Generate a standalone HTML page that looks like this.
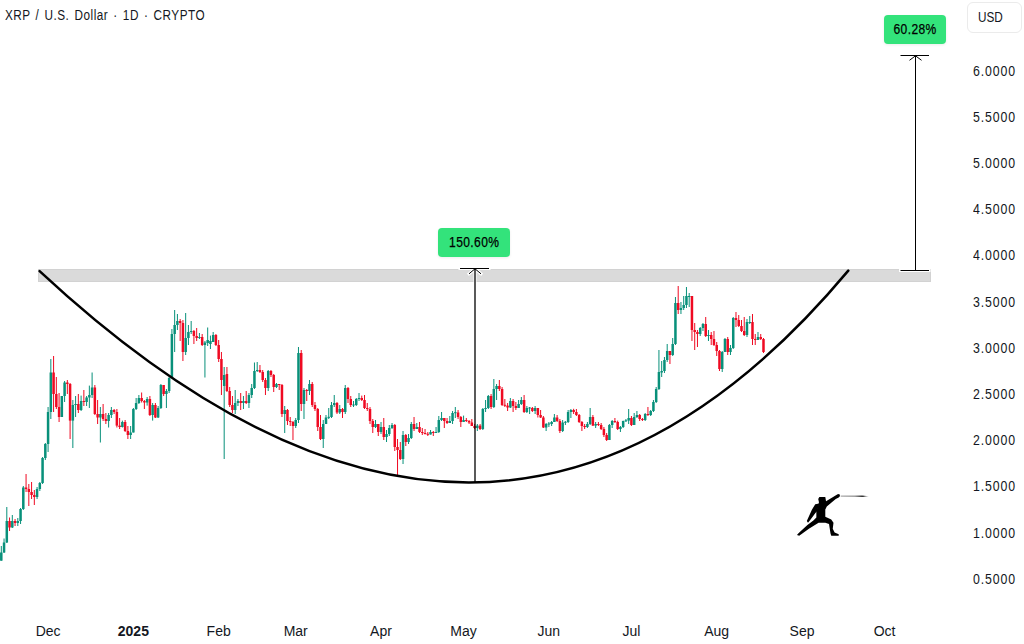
<!DOCTYPE html>
<html><head><meta charset="utf-8">
<style>
html,body{margin:0;padding:0;background:#fff;}
body{width:1024px;height:644px;overflow:hidden;position:relative;font-family:"Liberation Sans",sans-serif;color:#131722;}
svg{position:absolute;left:0;top:0;}
.title{position:absolute;left:4.8px;top:5.3px;font-size:14px;line-height:20px;white-space:nowrap;transform-origin:0 0;transform:scaleX(0.84);letter-spacing:0.6px;word-spacing:1.6px;}
.usd{position:absolute;left:967px;top:1.5px;width:54.5px;height:31px;border:1px solid #ebebeb;border-radius:6px;box-sizing:border-box;}
.usd span{position:absolute;left:10px;top:6.5px;font-size:14px;line-height:16px;transform-origin:0 0;transform:scaleX(0.84);}
.yl{position:absolute;left:973.3px;font-size:14px;line-height:16px;white-space:nowrap;transform-origin:0 0;transform:scaleX(0.88);letter-spacing:1px;}
.xl{position:absolute;top:623px;width:60px;text-align:center;font-size:14px;line-height:16px;}
.xl.b{font-weight:bold;}
.lt{display:inline-block;font-size:14px;transform:scaleX(0.86);letter-spacing:0.45px;-webkit-text-stroke:0.25px #000;}
.lab{position:absolute;background:#33e37b;border-radius:4px;box-shadow:0 1px 3px rgba(0,0,0,0.08);color:#000;font-size:13px;line-height:16px;text-align:center;}
</style></head><body>
<svg width="1024" height="644" viewBox="0 0 1024 644">
<rect x="38" y="269" width="893" height="13" fill="#d2d2d2"/><rect x="39" y="270" width="891" height="11" fill="#dadada"/>
<rect x="0.80" y="546.0" width="1.0" height="14.7" fill="#08907a"/><rect x="0.05" y="552.5" width="2.5" height="8.2" fill="#08907a"/>
<rect x="3.55" y="538.5" width="1.0" height="14.5" fill="#08907a"/><rect x="2.80" y="542.5" width="2.5" height="10.0" fill="#08907a"/>
<rect x="6.30" y="507.0" width="1.0" height="36.0" fill="#08907a"/><rect x="5.55" y="521.0" width="2.5" height="21.5" fill="#08907a"/>
<rect x="9.05" y="517.5" width="1.0" height="13.5" fill="#ef0a22"/><rect x="8.30" y="521.0" width="2.5" height="6.5" fill="#ef0a22"/>
<rect x="11.81" y="515.0" width="1.0" height="13.0" fill="#08907a"/><rect x="11.06" y="521.0" width="2.5" height="6.5" fill="#08907a"/>
<rect x="14.56" y="519.0" width="1.0" height="7.0" fill="#ef0a22"/><rect x="13.81" y="521.0" width="2.5" height="2.0" fill="#ef0a22"/>
<rect x="17.31" y="518.0" width="1.0" height="8.0" fill="#08907a"/><rect x="16.56" y="521.0" width="2.5" height="2.0" fill="#08907a"/>
<rect x="20.06" y="508.0" width="1.0" height="16.0" fill="#08907a"/><rect x="19.31" y="509.0" width="2.5" height="12.0" fill="#08907a"/>
<rect x="22.81" y="486.0" width="1.0" height="24.0" fill="#08907a"/><rect x="22.06" y="487.5" width="2.5" height="21.5" fill="#08907a"/>
<rect x="25.56" y="474.0" width="1.0" height="18.0" fill="#ef0a22"/><rect x="24.81" y="487.5" width="2.5" height="1.5" fill="#ef0a22"/>
<rect x="28.32" y="484.0" width="1.0" height="22.0" fill="#ef0a22"/><rect x="27.57" y="489.0" width="2.5" height="3.0" fill="#ef0a22"/>
<rect x="31.07" y="482.0" width="1.0" height="17.0" fill="#ef0a22"/><rect x="30.32" y="492.0" width="2.5" height="3.0" fill="#ef0a22"/>
<rect x="33.82" y="490.0" width="1.0" height="15.0" fill="#ef0a22"/><rect x="33.07" y="495.0" width="2.5" height="2.0" fill="#ef0a22"/>
<rect x="36.57" y="487.0" width="1.0" height="12.0" fill="#08907a"/><rect x="35.82" y="489.0" width="2.5" height="8.0" fill="#08907a"/>
<rect x="39.32" y="482.0" width="1.0" height="9.0" fill="#08907a"/><rect x="38.57" y="483.0" width="2.5" height="6.0" fill="#08907a"/>
<rect x="42.07" y="457.0" width="1.0" height="27.0" fill="#08907a"/><rect x="41.32" y="458.0" width="2.5" height="25.0" fill="#08907a"/>
<rect x="44.83" y="443.0" width="1.0" height="17.0" fill="#08907a"/><rect x="44.08" y="444.0" width="2.5" height="14.0" fill="#08907a"/>
<rect x="47.58" y="407.0" width="1.0" height="45.0" fill="#08907a"/><rect x="46.83" y="412.0" width="2.5" height="32.0" fill="#08907a"/>
<rect x="50.33" y="359.0" width="1.0" height="60.0" fill="#08907a"/><rect x="49.58" y="372.5" width="2.5" height="39.5" fill="#08907a"/>
<rect x="53.08" y="356.0" width="1.0" height="56.0" fill="#ef0a22"/><rect x="52.33" y="372.5" width="2.5" height="21.5" fill="#ef0a22"/>
<rect x="55.83" y="377.0" width="1.0" height="32.0" fill="#ef0a22"/><rect x="55.08" y="394.0" width="2.5" height="13.0" fill="#ef0a22"/>
<rect x="58.58" y="393.0" width="1.0" height="29.0" fill="#ef0a22"/><rect x="57.83" y="407.0" width="2.5" height="10.0" fill="#ef0a22"/>
<rect x="61.34" y="396.0" width="1.0" height="21.0" fill="#08907a"/><rect x="60.59" y="396.0" width="2.5" height="21.0" fill="#08907a"/>
<rect x="64.09" y="381.0" width="1.0" height="21.0" fill="#08907a"/><rect x="63.34" y="382.5" width="2.5" height="13.5" fill="#08907a"/>
<rect x="66.84" y="380.0" width="1.0" height="14.0" fill="#ef0a22"/><rect x="66.09" y="382.5" width="2.5" height="1.5" fill="#ef0a22"/>
<rect x="69.59" y="383.0" width="1.0" height="56.0" fill="#ef0a22"/><rect x="68.84" y="384.0" width="2.5" height="36.6" fill="#ef0a22"/>
<rect x="72.34" y="400.0" width="1.0" height="48.0" fill="#08907a"/><rect x="71.59" y="405.0" width="2.5" height="15.6" fill="#08907a"/>
<rect x="75.09" y="396.0" width="1.0" height="21.0" fill="#08907a"/><rect x="74.34" y="404.0" width="2.5" height="1.0" fill="#08907a"/>
<rect x="77.84" y="394.0" width="1.0" height="19.0" fill="#ef0a22"/><rect x="77.09" y="404.0" width="2.5" height="6.0" fill="#ef0a22"/>
<rect x="80.60" y="395.6" width="1.0" height="15.4" fill="#08907a"/><rect x="79.85" y="401.0" width="2.5" height="9.0" fill="#08907a"/>
<rect x="83.35" y="390.0" width="1.0" height="16.0" fill="#ef0a22"/><rect x="82.60" y="401.0" width="2.5" height="1.0" fill="#ef0a22"/>
<rect x="86.10" y="396.0" width="1.0" height="10.0" fill="#08907a"/><rect x="85.35" y="397.5" width="2.5" height="4.5" fill="#08907a"/>
<rect x="88.85" y="385.6" width="1.0" height="22.4" fill="#08907a"/><rect x="88.10" y="395.0" width="2.5" height="2.5" fill="#08907a"/>
<rect x="91.60" y="372.5" width="1.0" height="25.5" fill="#08907a"/><rect x="90.85" y="387.5" width="2.5" height="7.5" fill="#08907a"/>
<rect x="94.35" y="385.0" width="1.0" height="30.0" fill="#ef0a22"/><rect x="93.60" y="387.5" width="2.5" height="26.5" fill="#ef0a22"/>
<rect x="97.11" y="400.0" width="1.0" height="24.0" fill="#ef0a22"/><rect x="96.36" y="414.0" width="2.5" height="3.5" fill="#ef0a22"/>
<rect x="99.86" y="407.0" width="1.0" height="35.5" fill="#08907a"/><rect x="99.11" y="414.0" width="2.5" height="3.5" fill="#08907a"/>
<rect x="102.61" y="404.0" width="1.0" height="17.0" fill="#ef0a22"/><rect x="101.86" y="414.0" width="2.5" height="5.0" fill="#ef0a22"/>
<rect x="105.36" y="413.0" width="1.0" height="11.0" fill="#ef0a22"/><rect x="104.61" y="419.0" width="2.5" height="2.0" fill="#ef0a22"/>
<rect x="108.11" y="413.0" width="1.0" height="14.5" fill="#08907a"/><rect x="107.36" y="415.0" width="2.5" height="6.0" fill="#08907a"/>
<rect x="110.86" y="407.0" width="1.0" height="11.0" fill="#08907a"/><rect x="110.11" y="410.0" width="2.5" height="5.0" fill="#08907a"/>
<rect x="113.62" y="409.0" width="1.0" height="5.0" fill="#ef0a22"/><rect x="112.87" y="410.0" width="2.5" height="2.0" fill="#ef0a22"/>
<rect x="116.37" y="409.0" width="1.0" height="18.5" fill="#ef0a22"/><rect x="115.62" y="412.0" width="2.5" height="13.6" fill="#ef0a22"/>
<rect x="119.12" y="418.0" width="1.0" height="11.0" fill="#ef0a22"/><rect x="118.37" y="425.6" width="2.5" height="1.4" fill="#ef0a22"/>
<rect x="121.87" y="420.6" width="1.0" height="6.9" fill="#08907a"/><rect x="121.12" y="422.0" width="2.5" height="5.0" fill="#08907a"/>
<rect x="124.62" y="420.0" width="1.0" height="12.0" fill="#ef0a22"/><rect x="123.87" y="422.0" width="2.5" height="9.0" fill="#ef0a22"/>
<rect x="127.37" y="426.0" width="1.0" height="13.0" fill="#ef0a22"/><rect x="126.62" y="431.0" width="2.5" height="4.0" fill="#ef0a22"/>
<rect x="130.13" y="426.0" width="1.0" height="13.0" fill="#08907a"/><rect x="129.38" y="432.5" width="2.5" height="2.5" fill="#08907a"/>
<rect x="132.88" y="408.0" width="1.0" height="24.5" fill="#08907a"/><rect x="132.13" y="409.0" width="2.5" height="23.5" fill="#08907a"/>
<rect x="135.63" y="398.0" width="1.0" height="12.0" fill="#08907a"/><rect x="134.88" y="403.0" width="2.5" height="6.0" fill="#08907a"/>
<rect x="138.38" y="395.0" width="1.0" height="9.0" fill="#08907a"/><rect x="137.63" y="398.0" width="2.5" height="5.0" fill="#08907a"/>
<rect x="141.13" y="392.5" width="1.0" height="10.0" fill="#ef0a22"/><rect x="140.38" y="398.0" width="2.5" height="3.0" fill="#ef0a22"/>
<rect x="143.88" y="400.0" width="1.0" height="9.0" fill="#ef0a22"/><rect x="143.13" y="401.0" width="2.5" height="1.5" fill="#ef0a22"/>
<rect x="146.63" y="397.0" width="1.0" height="8.6" fill="#08907a"/><rect x="145.88" y="399.0" width="2.5" height="3.5" fill="#08907a"/>
<rect x="149.39" y="396.0" width="1.0" height="20.0" fill="#ef0a22"/><rect x="148.64" y="399.0" width="2.5" height="16.0" fill="#ef0a22"/>
<rect x="152.14" y="403.0" width="1.0" height="17.6" fill="#08907a"/><rect x="151.39" y="405.0" width="2.5" height="10.0" fill="#08907a"/>
<rect x="154.89" y="403.0" width="1.0" height="15.0" fill="#ef0a22"/><rect x="154.14" y="405.0" width="2.5" height="12.5" fill="#ef0a22"/>
<rect x="157.64" y="406.0" width="1.0" height="12.0" fill="#08907a"/><rect x="156.89" y="408.0" width="2.5" height="9.5" fill="#08907a"/>
<rect x="160.39" y="384.0" width="1.0" height="25.0" fill="#08907a"/><rect x="159.64" y="385.0" width="2.5" height="23.0" fill="#08907a"/>
<rect x="163.14" y="385.0" width="1.0" height="11.0" fill="#ef0a22"/><rect x="162.39" y="385.0" width="2.5" height="9.0" fill="#ef0a22"/>
<rect x="165.90" y="389.0" width="1.0" height="19.0" fill="#08907a"/><rect x="165.15" y="391.0" width="2.5" height="3.0" fill="#08907a"/>
<rect x="168.65" y="377.0" width="1.0" height="16.0" fill="#08907a"/><rect x="167.90" y="378.0" width="2.5" height="13.0" fill="#08907a"/>
<rect x="171.40" y="329.0" width="1.0" height="49.0" fill="#08907a"/><rect x="170.65" y="334.0" width="2.5" height="44.0" fill="#08907a"/>
<rect x="174.15" y="310.0" width="1.0" height="42.0" fill="#08907a"/><rect x="173.40" y="325.0" width="2.5" height="9.0" fill="#08907a"/>
<rect x="176.90" y="314.0" width="1.0" height="16.0" fill="#08907a"/><rect x="176.15" y="321.0" width="2.5" height="4.0" fill="#08907a"/>
<rect x="179.65" y="319.0" width="1.0" height="22.0" fill="#ef0a22"/><rect x="178.90" y="321.0" width="2.5" height="2.0" fill="#ef0a22"/>
<rect x="182.41" y="320.0" width="1.0" height="41.0" fill="#ef0a22"/><rect x="181.66" y="323.0" width="2.5" height="29.0" fill="#ef0a22"/>
<rect x="185.16" y="313.0" width="1.0" height="42.0" fill="#08907a"/><rect x="184.41" y="338.0" width="2.5" height="14.0" fill="#08907a"/>
<rect x="187.91" y="325.0" width="1.0" height="20.0" fill="#08907a"/><rect x="187.16" y="332.0" width="2.5" height="6.0" fill="#08907a"/>
<rect x="190.66" y="321.0" width="1.0" height="13.0" fill="#08907a"/><rect x="189.91" y="331.0" width="2.5" height="1.0" fill="#08907a"/>
<rect x="193.41" y="330.0" width="1.0" height="14.0" fill="#ef0a22"/><rect x="192.66" y="331.0" width="2.5" height="5.0" fill="#ef0a22"/>
<rect x="196.16" y="328.0" width="1.0" height="13.0" fill="#ef0a22"/><rect x="195.41" y="336.0" width="2.5" height="2.0" fill="#ef0a22"/>
<rect x="198.92" y="333.0" width="1.0" height="6.0" fill="#08907a"/><rect x="198.17" y="337.0" width="2.5" height="1.0" fill="#08907a"/>
<rect x="201.67" y="334.0" width="1.0" height="12.0" fill="#ef0a22"/><rect x="200.92" y="337.0" width="2.5" height="8.0" fill="#ef0a22"/>
<rect x="204.42" y="341.0" width="1.0" height="36.5" fill="#08907a"/><rect x="203.67" y="342.5" width="2.5" height="2.5" fill="#08907a"/>
<rect x="207.17" y="327.5" width="1.0" height="18.5" fill="#08907a"/><rect x="206.42" y="340.0" width="2.5" height="3.0" fill="#08907a"/>
<rect x="209.92" y="335.6" width="1.0" height="13.4" fill="#08907a"/><rect x="209.17" y="341.0" width="2.5" height="3.0" fill="#08907a"/>
<rect x="212.67" y="332.0" width="1.0" height="10.0" fill="#08907a"/><rect x="211.92" y="335.0" width="2.5" height="7.0" fill="#08907a"/>
<rect x="215.42" y="334.0" width="1.0" height="12.0" fill="#ef0a22"/><rect x="214.67" y="335.0" width="2.5" height="10.0" fill="#ef0a22"/>
<rect x="218.18" y="340.0" width="1.0" height="22.0" fill="#ef0a22"/><rect x="217.43" y="345.0" width="2.5" height="14.0" fill="#ef0a22"/>
<rect x="220.93" y="352.0" width="1.0" height="43.0" fill="#ef0a22"/><rect x="220.18" y="359.0" width="2.5" height="21.0" fill="#ef0a22"/>
<rect x="223.68" y="367.0" width="1.0" height="92.0" fill="#08907a"/><rect x="222.93" y="375.0" width="2.5" height="11.0" fill="#08907a"/>
<rect x="226.43" y="367.0" width="1.0" height="25.0" fill="#ef0a22"/><rect x="225.68" y="374.0" width="2.5" height="17.0" fill="#ef0a22"/>
<rect x="229.18" y="387.0" width="1.0" height="20.0" fill="#ef0a22"/><rect x="228.43" y="391.0" width="2.5" height="14.0" fill="#ef0a22"/>
<rect x="231.93" y="396.0" width="1.0" height="17.0" fill="#ef0a22"/><rect x="231.18" y="405.0" width="2.5" height="5.0" fill="#ef0a22"/>
<rect x="234.69" y="390.0" width="1.0" height="24.0" fill="#08907a"/><rect x="233.94" y="403.0" width="2.5" height="7.0" fill="#08907a"/>
<rect x="237.44" y="399.0" width="1.0" height="7.0" fill="#08907a"/><rect x="236.69" y="401.0" width="2.5" height="2.0" fill="#08907a"/>
<rect x="240.19" y="393.0" width="1.0" height="17.0" fill="#ef0a22"/><rect x="239.44" y="401.0" width="2.5" height="2.0" fill="#ef0a22"/>
<rect x="242.94" y="396.0" width="1.0" height="13.0" fill="#08907a"/><rect x="242.19" y="401.0" width="2.5" height="2.0" fill="#08907a"/>
<rect x="245.69" y="391.0" width="1.0" height="13.0" fill="#ef0a22"/><rect x="244.94" y="401.0" width="2.5" height="2.0" fill="#ef0a22"/>
<rect x="248.44" y="393.0" width="1.0" height="15.0" fill="#08907a"/><rect x="247.69" y="395.0" width="2.5" height="8.0" fill="#08907a"/>
<rect x="251.20" y="384.0" width="1.0" height="14.0" fill="#08907a"/><rect x="250.45" y="388.0" width="2.5" height="7.0" fill="#08907a"/>
<rect x="253.95" y="362.5" width="1.0" height="26.5" fill="#08907a"/><rect x="253.20" y="371.0" width="2.5" height="17.0" fill="#08907a"/>
<rect x="256.70" y="362.0" width="1.0" height="10.0" fill="#08907a"/><rect x="255.95" y="370.0" width="2.5" height="1.0" fill="#08907a"/>
<rect x="259.45" y="365.0" width="1.0" height="8.0" fill="#ef0a22"/><rect x="258.70" y="370.0" width="2.5" height="2.0" fill="#ef0a22"/>
<rect x="262.20" y="370.0" width="1.0" height="12.0" fill="#ef0a22"/><rect x="261.45" y="372.0" width="2.5" height="8.0" fill="#ef0a22"/>
<rect x="264.95" y="378.0" width="1.0" height="17.0" fill="#ef0a22"/><rect x="264.20" y="380.0" width="2.5" height="8.0" fill="#ef0a22"/>
<rect x="267.71" y="370.0" width="1.0" height="21.0" fill="#08907a"/><rect x="266.96" y="371.0" width="2.5" height="17.0" fill="#08907a"/>
<rect x="270.46" y="370.0" width="1.0" height="7.0" fill="#ef0a22"/><rect x="269.71" y="371.0" width="2.5" height="4.0" fill="#ef0a22"/>
<rect x="273.21" y="374.0" width="1.0" height="18.0" fill="#ef0a22"/><rect x="272.46" y="375.0" width="2.5" height="12.0" fill="#ef0a22"/>
<rect x="275.96" y="383.0" width="1.0" height="5.0" fill="#08907a"/><rect x="275.21" y="384.0" width="2.5" height="3.0" fill="#08907a"/>
<rect x="278.71" y="384.0" width="1.0" height="6.0" fill="#ef0a22"/><rect x="277.96" y="384.0" width="2.5" height="1.0" fill="#ef0a22"/>
<rect x="281.46" y="384.0" width="1.0" height="33.0" fill="#ef0a22"/><rect x="280.71" y="385.0" width="2.5" height="29.0" fill="#ef0a22"/>
<rect x="284.21" y="406.0" width="1.0" height="27.0" fill="#08907a"/><rect x="283.46" y="410.0" width="2.5" height="4.0" fill="#08907a"/>
<rect x="286.97" y="409.0" width="1.0" height="16.0" fill="#ef0a22"/><rect x="286.22" y="410.0" width="2.5" height="11.0" fill="#ef0a22"/>
<rect x="289.72" y="417.0" width="1.0" height="9.0" fill="#ef0a22"/><rect x="288.97" y="421.0" width="2.5" height="1.0" fill="#ef0a22"/>
<rect x="292.47" y="421.0" width="1.0" height="19.0" fill="#ef0a22"/><rect x="291.72" y="422.0" width="2.5" height="4.0" fill="#ef0a22"/>
<rect x="295.22" y="418.0" width="1.0" height="10.0" fill="#08907a"/><rect x="294.47" y="420.0" width="2.5" height="6.0" fill="#08907a"/>
<rect x="297.97" y="347.0" width="1.0" height="76.0" fill="#08907a"/><rect x="297.22" y="353.0" width="2.5" height="67.0" fill="#08907a"/>
<rect x="300.72" y="350.0" width="1.0" height="61.0" fill="#ef0a22"/><rect x="299.97" y="353.0" width="2.5" height="51.0" fill="#ef0a22"/>
<rect x="303.48" y="388.0" width="1.0" height="31.0" fill="#08907a"/><rect x="302.73" y="390.0" width="2.5" height="14.0" fill="#08907a"/>
<rect x="306.23" y="389.0" width="1.0" height="12.0" fill="#ef0a22"/><rect x="305.48" y="390.0" width="2.5" height="1.0" fill="#ef0a22"/>
<rect x="308.98" y="380.0" width="1.0" height="15.0" fill="#08907a"/><rect x="308.23" y="384.0" width="2.5" height="7.0" fill="#08907a"/>
<rect x="311.73" y="382.0" width="1.0" height="25.0" fill="#ef0a22"/><rect x="310.98" y="384.0" width="2.5" height="21.0" fill="#ef0a22"/>
<rect x="314.48" y="402.0" width="1.0" height="9.0" fill="#ef0a22"/><rect x="313.73" y="405.0" width="2.5" height="4.0" fill="#ef0a22"/>
<rect x="317.23" y="408.0" width="1.0" height="23.0" fill="#ef0a22"/><rect x="316.48" y="409.0" width="2.5" height="18.0" fill="#ef0a22"/>
<rect x="319.99" y="415.0" width="1.0" height="25.0" fill="#ef0a22"/><rect x="319.24" y="427.0" width="2.5" height="12.0" fill="#ef0a22"/>
<rect x="322.74" y="420.0" width="1.0" height="28.0" fill="#08907a"/><rect x="321.99" y="424.0" width="2.5" height="15.0" fill="#08907a"/>
<rect x="325.49" y="415.0" width="1.0" height="9.0" fill="#08907a"/><rect x="324.74" y="417.5" width="2.5" height="6.5" fill="#08907a"/>
<rect x="328.24" y="408.0" width="1.0" height="11.0" fill="#08907a"/><rect x="327.49" y="416.8" width="2.5" height="1.0" fill="#08907a"/>
<rect x="330.99" y="402.0" width="1.0" height="16.0" fill="#08907a"/><rect x="330.24" y="405.0" width="2.5" height="12.0" fill="#08907a"/>
<rect x="333.74" y="395.0" width="1.0" height="12.0" fill="#08907a"/><rect x="332.99" y="403.0" width="2.5" height="2.0" fill="#08907a"/>
<rect x="336.50" y="402.0" width="1.0" height="12.0" fill="#ef0a22"/><rect x="335.75" y="403.0" width="2.5" height="9.5" fill="#ef0a22"/>
<rect x="339.25" y="405.0" width="1.0" height="9.0" fill="#08907a"/><rect x="338.50" y="409.0" width="2.5" height="3.5" fill="#08907a"/>
<rect x="342.00" y="408.0" width="1.0" height="10.0" fill="#ef0a22"/><rect x="341.25" y="409.0" width="2.5" height="3.0" fill="#ef0a22"/>
<rect x="344.75" y="385.0" width="1.0" height="29.0" fill="#08907a"/><rect x="344.00" y="388.0" width="2.5" height="24.0" fill="#08907a"/>
<rect x="347.50" y="387.0" width="1.0" height="16.0" fill="#ef0a22"/><rect x="346.75" y="388.0" width="2.5" height="11.0" fill="#ef0a22"/>
<rect x="350.25" y="396.0" width="1.0" height="11.0" fill="#ef0a22"/><rect x="349.50" y="399.0" width="2.5" height="6.0" fill="#ef0a22"/>
<rect x="353.00" y="401.0" width="1.0" height="6.0" fill="#08907a"/><rect x="352.25" y="404.5" width="2.5" height="1.0" fill="#08907a"/>
<rect x="355.76" y="398.0" width="1.0" height="8.0" fill="#08907a"/><rect x="355.01" y="399.0" width="2.5" height="6.0" fill="#08907a"/>
<rect x="358.51" y="393.0" width="1.0" height="8.0" fill="#08907a"/><rect x="357.76" y="398.0" width="2.5" height="1.0" fill="#08907a"/>
<rect x="361.26" y="395.6" width="1.0" height="5.4" fill="#ef0a22"/><rect x="360.51" y="398.0" width="2.5" height="2.0" fill="#ef0a22"/>
<rect x="364.01" y="395.0" width="1.0" height="14.0" fill="#ef0a22"/><rect x="363.26" y="400.0" width="2.5" height="8.0" fill="#ef0a22"/>
<rect x="366.76" y="403.0" width="1.0" height="8.0" fill="#ef0a22"/><rect x="366.01" y="408.0" width="2.5" height="1.0" fill="#ef0a22"/>
<rect x="369.51" y="407.0" width="1.0" height="17.0" fill="#ef0a22"/><rect x="368.76" y="409.0" width="2.5" height="12.0" fill="#ef0a22"/>
<rect x="372.27" y="419.0" width="1.0" height="14.0" fill="#ef0a22"/><rect x="371.52" y="421.0" width="2.5" height="6.0" fill="#ef0a22"/>
<rect x="375.02" y="420.0" width="1.0" height="8.0" fill="#08907a"/><rect x="374.27" y="424.0" width="2.5" height="3.0" fill="#08907a"/>
<rect x="377.77" y="424.0" width="1.0" height="12.0" fill="#ef0a22"/><rect x="377.02" y="424.0" width="2.5" height="8.0" fill="#ef0a22"/>
<rect x="380.52" y="422.0" width="1.0" height="12.0" fill="#08907a"/><rect x="379.77" y="427.0" width="2.5" height="5.0" fill="#08907a"/>
<rect x="383.27" y="418.0" width="1.0" height="22.0" fill="#ef0a22"/><rect x="382.52" y="427.0" width="2.5" height="10.0" fill="#ef0a22"/>
<rect x="386.02" y="430.0" width="1.0" height="12.0" fill="#08907a"/><rect x="385.27" y="434.0" width="2.5" height="3.0" fill="#08907a"/>
<rect x="388.78" y="425.0" width="1.0" height="11.0" fill="#08907a"/><rect x="388.03" y="428.0" width="2.5" height="6.0" fill="#08907a"/>
<rect x="391.53" y="423.0" width="1.0" height="6.0" fill="#08907a"/><rect x="390.78" y="425.0" width="2.5" height="3.0" fill="#08907a"/>
<rect x="394.28" y="424.0" width="1.0" height="27.0" fill="#ef0a22"/><rect x="393.53" y="425.0" width="2.5" height="22.0" fill="#ef0a22"/>
<rect x="397.03" y="439.0" width="1.0" height="37.0" fill="#ef0a22"/><rect x="396.28" y="447.0" width="2.5" height="3.0" fill="#ef0a22"/>
<rect x="399.78" y="442.0" width="1.0" height="18.0" fill="#ef0a22"/><rect x="399.03" y="450.0" width="2.5" height="9.0" fill="#ef0a22"/>
<rect x="402.53" y="431.0" width="1.0" height="33.0" fill="#08907a"/><rect x="401.78" y="435.0" width="2.5" height="24.0" fill="#08907a"/>
<rect x="405.29" y="434.0" width="1.0" height="12.0" fill="#ef0a22"/><rect x="404.54" y="435.0" width="2.5" height="7.0" fill="#ef0a22"/>
<rect x="408.04" y="434.0" width="1.0" height="10.0" fill="#08907a"/><rect x="407.29" y="438.0" width="2.5" height="4.0" fill="#08907a"/>
<rect x="410.79" y="422.0" width="1.0" height="17.0" fill="#08907a"/><rect x="410.04" y="424.0" width="2.5" height="14.0" fill="#08907a"/>
<rect x="413.54" y="417.0" width="1.0" height="14.0" fill="#ef0a22"/><rect x="412.79" y="424.0" width="2.5" height="5.0" fill="#ef0a22"/>
<rect x="416.29" y="423.0" width="1.0" height="6.0" fill="#08907a"/><rect x="415.54" y="427.0" width="2.5" height="2.0" fill="#08907a"/>
<rect x="419.04" y="422.0" width="1.0" height="11.0" fill="#ef0a22"/><rect x="418.29" y="427.0" width="2.5" height="5.0" fill="#ef0a22"/>
<rect x="421.79" y="428.0" width="1.0" height="7.0" fill="#ef0a22"/><rect x="421.04" y="432.0" width="2.5" height="1.0" fill="#ef0a22"/>
<rect x="424.55" y="429.0" width="1.0" height="5.5" fill="#ef0a22"/><rect x="423.80" y="433.0" width="2.5" height="1.0" fill="#ef0a22"/>
<rect x="427.30" y="432.0" width="1.0" height="4.0" fill="#ef0a22"/><rect x="426.55" y="433.8" width="2.5" height="1.0" fill="#ef0a22"/>
<rect x="430.05" y="430.0" width="1.0" height="4.5" fill="#08907a"/><rect x="429.30" y="432.0" width="2.5" height="2.5" fill="#08907a"/>
<rect x="432.80" y="431.0" width="1.0" height="5.0" fill="#ef0a22"/><rect x="432.05" y="432.0" width="2.5" height="1.0" fill="#ef0a22"/>
<rect x="435.55" y="427.0" width="1.0" height="6.0" fill="#08907a"/><rect x="434.80" y="432.0" width="2.5" height="1.0" fill="#08907a"/>
<rect x="438.30" y="416.0" width="1.0" height="17.0" fill="#08907a"/><rect x="437.55" y="420.0" width="2.5" height="12.0" fill="#08907a"/>
<rect x="441.06" y="412.0" width="1.0" height="9.0" fill="#08907a"/><rect x="440.31" y="418.0" width="2.5" height="2.0" fill="#08907a"/>
<rect x="443.81" y="418.0" width="1.0" height="10.0" fill="#ef0a22"/><rect x="443.06" y="418.0" width="2.5" height="3.0" fill="#ef0a22"/>
<rect x="446.56" y="418.0" width="1.0" height="6.0" fill="#ef0a22"/><rect x="445.81" y="421.0" width="2.5" height="2.0" fill="#ef0a22"/>
<rect x="449.31" y="416.0" width="1.0" height="7.0" fill="#08907a"/><rect x="448.56" y="421.0" width="2.5" height="2.0" fill="#08907a"/>
<rect x="452.06" y="411.0" width="1.0" height="13.0" fill="#08907a"/><rect x="451.31" y="413.0" width="2.5" height="8.0" fill="#08907a"/>
<rect x="454.81" y="407.0" width="1.0" height="11.0" fill="#08907a"/><rect x="454.06" y="412.2" width="2.5" height="1.0" fill="#08907a"/>
<rect x="457.57" y="410.0" width="1.0" height="9.0" fill="#ef0a22"/><rect x="456.82" y="412.5" width="2.5" height="4.5" fill="#ef0a22"/>
<rect x="460.32" y="416.0" width="1.0" height="11.0" fill="#ef0a22"/><rect x="459.57" y="417.0" width="2.5" height="5.0" fill="#ef0a22"/>
<rect x="463.07" y="415.6" width="1.0" height="6.4" fill="#08907a"/><rect x="462.32" y="420.0" width="2.5" height="2.0" fill="#08907a"/>
<rect x="465.82" y="418.0" width="1.0" height="4.0" fill="#ef0a22"/><rect x="465.07" y="420.0" width="2.5" height="1.0" fill="#ef0a22"/>
<rect x="468.57" y="420.0" width="1.0" height="4.0" fill="#ef0a22"/><rect x="467.82" y="421.0" width="2.5" height="1.5" fill="#ef0a22"/>
<rect x="471.32" y="419.0" width="1.0" height="7.0" fill="#ef0a22"/><rect x="470.57" y="422.5" width="2.5" height="3.5" fill="#ef0a22"/>
<rect x="474.08" y="424.0" width="1.0" height="5.0" fill="#ef0a22"/><rect x="473.33" y="426.0" width="2.5" height="2.0" fill="#ef0a22"/>
<rect x="476.83" y="424.0" width="1.0" height="7.0" fill="#08907a"/><rect x="476.08" y="425.6" width="2.5" height="2.4" fill="#08907a"/>
<rect x="479.58" y="424.0" width="1.0" height="6.0" fill="#ef0a22"/><rect x="478.83" y="425.6" width="2.5" height="3.4" fill="#ef0a22"/>
<rect x="482.33" y="408.0" width="1.0" height="22.0" fill="#08907a"/><rect x="481.58" y="409.0" width="2.5" height="20.0" fill="#08907a"/>
<rect x="485.08" y="400.0" width="1.0" height="12.0" fill="#08907a"/><rect x="484.33" y="408.0" width="2.5" height="1.0" fill="#08907a"/>
<rect x="487.83" y="395.0" width="1.0" height="14.0" fill="#08907a"/><rect x="487.08" y="396.0" width="2.5" height="12.0" fill="#08907a"/>
<rect x="490.58" y="394.0" width="1.0" height="15.0" fill="#ef0a22"/><rect x="489.83" y="396.0" width="2.5" height="11.0" fill="#ef0a22"/>
<rect x="493.34" y="379.0" width="1.0" height="29.0" fill="#08907a"/><rect x="492.59" y="389.0" width="2.5" height="18.0" fill="#08907a"/>
<rect x="496.09" y="384.0" width="1.0" height="16.0" fill="#08907a"/><rect x="495.34" y="386.0" width="2.5" height="3.0" fill="#08907a"/>
<rect x="498.84" y="380.0" width="1.0" height="11.0" fill="#ef0a22"/><rect x="498.09" y="386.0" width="2.5" height="3.0" fill="#ef0a22"/>
<rect x="501.59" y="387.0" width="1.0" height="19.0" fill="#ef0a22"/><rect x="500.84" y="389.0" width="2.5" height="16.0" fill="#ef0a22"/>
<rect x="504.34" y="399.0" width="1.0" height="8.0" fill="#ef0a22"/><rect x="503.59" y="404.8" width="2.5" height="1.0" fill="#ef0a22"/>
<rect x="507.09" y="403.0" width="1.0" height="8.0" fill="#ef0a22"/><rect x="506.34" y="405.6" width="2.5" height="1.9" fill="#ef0a22"/>
<rect x="509.85" y="398.0" width="1.0" height="10.0" fill="#08907a"/><rect x="509.10" y="401.0" width="2.5" height="6.5" fill="#08907a"/>
<rect x="512.60" y="399.0" width="1.0" height="13.0" fill="#ef0a22"/><rect x="511.85" y="401.0" width="2.5" height="5.0" fill="#ef0a22"/>
<rect x="515.35" y="402.0" width="1.0" height="8.0" fill="#ef0a22"/><rect x="514.60" y="406.0" width="2.5" height="2.0" fill="#ef0a22"/>
<rect x="518.10" y="400.0" width="1.0" height="8.0" fill="#08907a"/><rect x="517.35" y="404.0" width="2.5" height="4.0" fill="#08907a"/>
<rect x="520.85" y="397.0" width="1.0" height="8.0" fill="#08907a"/><rect x="520.10" y="400.0" width="2.5" height="4.0" fill="#08907a"/>
<rect x="523.60" y="395.0" width="1.0" height="18.0" fill="#ef0a22"/><rect x="522.85" y="400.0" width="2.5" height="12.0" fill="#ef0a22"/>
<rect x="526.36" y="406.0" width="1.0" height="7.0" fill="#08907a"/><rect x="525.61" y="408.0" width="2.5" height="4.0" fill="#08907a"/>
<rect x="529.11" y="407.0" width="1.0" height="7.0" fill="#08907a"/><rect x="528.36" y="407.5" width="2.5" height="1.0" fill="#08907a"/>
<rect x="531.86" y="407.0" width="1.0" height="5.0" fill="#ef0a22"/><rect x="531.11" y="408.0" width="2.5" height="3.0" fill="#ef0a22"/>
<rect x="534.61" y="406.0" width="1.0" height="8.0" fill="#08907a"/><rect x="533.86" y="408.0" width="2.5" height="3.0" fill="#08907a"/>
<rect x="537.36" y="408.0" width="1.0" height="9.5" fill="#ef0a22"/><rect x="536.61" y="408.0" width="2.5" height="7.0" fill="#ef0a22"/>
<rect x="540.11" y="410.0" width="1.0" height="8.0" fill="#ef0a22"/><rect x="539.36" y="415.0" width="2.5" height="2.5" fill="#ef0a22"/>
<rect x="542.87" y="416.0" width="1.0" height="12.0" fill="#ef0a22"/><rect x="542.12" y="417.5" width="2.5" height="10.0" fill="#ef0a22"/>
<rect x="545.62" y="423.0" width="1.0" height="8.0" fill="#08907a"/><rect x="544.87" y="424.0" width="2.5" height="3.5" fill="#08907a"/>
<rect x="548.37" y="422.0" width="1.0" height="5.0" fill="#08907a"/><rect x="547.62" y="423.5" width="2.5" height="1.0" fill="#08907a"/>
<rect x="551.12" y="421.0" width="1.0" height="5.0" fill="#08907a"/><rect x="550.37" y="422.0" width="2.5" height="2.0" fill="#08907a"/>
<rect x="553.87" y="414.0" width="1.0" height="8.0" fill="#08907a"/><rect x="553.12" y="417.5" width="2.5" height="4.5" fill="#08907a"/>
<rect x="556.62" y="415.0" width="1.0" height="7.0" fill="#ef0a22"/><rect x="555.87" y="417.5" width="2.5" height="3.5" fill="#ef0a22"/>
<rect x="559.37" y="419.0" width="1.0" height="14.0" fill="#ef0a22"/><rect x="558.62" y="421.0" width="2.5" height="10.0" fill="#ef0a22"/>
<rect x="562.13" y="420.0" width="1.0" height="12.0" fill="#08907a"/><rect x="561.38" y="422.5" width="2.5" height="8.5" fill="#08907a"/>
<rect x="564.88" y="421.0" width="1.0" height="4.0" fill="#08907a"/><rect x="564.13" y="421.8" width="2.5" height="1.0" fill="#08907a"/>
<rect x="567.63" y="410.0" width="1.0" height="13.0" fill="#08907a"/><rect x="566.88" y="412.0" width="2.5" height="10.0" fill="#08907a"/>
<rect x="570.38" y="409.0" width="1.0" height="9.0" fill="#08907a"/><rect x="569.63" y="410.0" width="2.5" height="2.0" fill="#08907a"/>
<rect x="573.13" y="408.8" width="1.0" height="5.2" fill="#ef0a22"/><rect x="572.38" y="410.0" width="2.5" height="2.0" fill="#ef0a22"/>
<rect x="575.88" y="409.0" width="1.0" height="7.0" fill="#ef0a22"/><rect x="575.13" y="412.0" width="2.5" height="3.0" fill="#ef0a22"/>
<rect x="578.64" y="414.0" width="1.0" height="9.0" fill="#ef0a22"/><rect x="577.89" y="415.0" width="2.5" height="7.0" fill="#ef0a22"/>
<rect x="581.39" y="421.0" width="1.0" height="10.0" fill="#ef0a22"/><rect x="580.64" y="422.0" width="2.5" height="4.0" fill="#ef0a22"/>
<rect x="584.14" y="424.0" width="1.0" height="5.0" fill="#ef0a22"/><rect x="583.39" y="426.0" width="2.5" height="1.0" fill="#ef0a22"/>
<rect x="586.89" y="422.0" width="1.0" height="6.0" fill="#08907a"/><rect x="586.14" y="424.0" width="2.5" height="3.0" fill="#08907a"/>
<rect x="589.64" y="408.0" width="1.0" height="17.0" fill="#08907a"/><rect x="588.89" y="417.0" width="2.5" height="7.0" fill="#08907a"/>
<rect x="592.39" y="415.0" width="1.0" height="11.0" fill="#ef0a22"/><rect x="591.64" y="417.0" width="2.5" height="8.6" fill="#ef0a22"/>
<rect x="595.15" y="422.0" width="1.0" height="6.0" fill="#08907a"/><rect x="594.40" y="424.0" width="2.5" height="1.6" fill="#08907a"/>
<rect x="597.90" y="422.0" width="1.0" height="4.0" fill="#ef0a22"/><rect x="597.15" y="424.0" width="2.5" height="1.0" fill="#ef0a22"/>
<rect x="600.65" y="423.0" width="1.0" height="7.0" fill="#ef0a22"/><rect x="599.90" y="425.0" width="2.5" height="4.0" fill="#ef0a22"/>
<rect x="603.40" y="427.0" width="1.0" height="10.0" fill="#ef0a22"/><rect x="602.65" y="429.0" width="2.5" height="6.0" fill="#ef0a22"/>
<rect x="606.15" y="433.0" width="1.0" height="8.0" fill="#ef0a22"/><rect x="605.40" y="435.0" width="2.5" height="5.0" fill="#ef0a22"/>
<rect x="608.90" y="424.0" width="1.0" height="16.0" fill="#08907a"/><rect x="608.15" y="425.0" width="2.5" height="15.0" fill="#08907a"/>
<rect x="611.66" y="420.0" width="1.0" height="8.0" fill="#08907a"/><rect x="610.91" y="421.0" width="2.5" height="4.0" fill="#08907a"/>
<rect x="614.41" y="418.0" width="1.0" height="5.0" fill="#ef0a22"/><rect x="613.66" y="421.0" width="2.5" height="1.0" fill="#ef0a22"/>
<rect x="617.16" y="420.6" width="1.0" height="9.4" fill="#ef0a22"/><rect x="616.41" y="422.0" width="2.5" height="7.0" fill="#ef0a22"/>
<rect x="619.91" y="426.0" width="1.0" height="6.0" fill="#08907a"/><rect x="619.16" y="427.0" width="2.5" height="2.0" fill="#08907a"/>
<rect x="622.66" y="420.6" width="1.0" height="7.4" fill="#08907a"/><rect x="621.91" y="421.0" width="2.5" height="6.0" fill="#08907a"/>
<rect x="625.41" y="419.0" width="1.0" height="3.0" fill="#08907a"/><rect x="624.66" y="420.3" width="2.5" height="1.0" fill="#08907a"/>
<rect x="628.16" y="409.0" width="1.0" height="15.0" fill="#08907a"/><rect x="627.41" y="418.0" width="2.5" height="2.6" fill="#08907a"/>
<rect x="630.92" y="416.0" width="1.0" height="10.0" fill="#ef0a22"/><rect x="630.17" y="418.0" width="2.5" height="7.0" fill="#ef0a22"/>
<rect x="633.67" y="413.0" width="1.0" height="12.0" fill="#08907a"/><rect x="632.92" y="417.0" width="2.5" height="8.0" fill="#08907a"/>
<rect x="636.42" y="411.0" width="1.0" height="7.0" fill="#08907a"/><rect x="635.67" y="415.0" width="2.5" height="2.0" fill="#08907a"/>
<rect x="639.17" y="414.0" width="1.0" height="7.0" fill="#ef0a22"/><rect x="638.42" y="415.0" width="2.5" height="4.0" fill="#ef0a22"/>
<rect x="641.92" y="418.0" width="1.0" height="3.0" fill="#ef0a22"/><rect x="641.17" y="419.0" width="2.5" height="1.0" fill="#ef0a22"/>
<rect x="644.67" y="413.0" width="1.0" height="8.0" fill="#08907a"/><rect x="643.92" y="414.0" width="2.5" height="6.0" fill="#08907a"/>
<rect x="647.43" y="407.0" width="1.0" height="9.0" fill="#ef0a22"/><rect x="646.68" y="414.0" width="2.5" height="1.0" fill="#ef0a22"/>
<rect x="650.18" y="410.0" width="1.0" height="6.0" fill="#08907a"/><rect x="649.43" y="411.0" width="2.5" height="4.0" fill="#08907a"/>
<rect x="652.93" y="400.0" width="1.0" height="12.0" fill="#08907a"/><rect x="652.18" y="402.0" width="2.5" height="9.0" fill="#08907a"/>
<rect x="655.68" y="387.0" width="1.0" height="16.0" fill="#08907a"/><rect x="654.93" y="389.0" width="2.5" height="13.0" fill="#08907a"/>
<rect x="658.43" y="350.0" width="1.0" height="40.0" fill="#08907a"/><rect x="657.68" y="372.0" width="2.5" height="17.0" fill="#08907a"/>
<rect x="661.18" y="361.0" width="1.0" height="16.0" fill="#08907a"/><rect x="660.43" y="371.0" width="2.5" height="1.5" fill="#08907a"/>
<rect x="663.94" y="357.0" width="1.0" height="16.0" fill="#08907a"/><rect x="663.19" y="360.0" width="2.5" height="11.0" fill="#08907a"/>
<rect x="666.69" y="344.0" width="1.0" height="18.0" fill="#08907a"/><rect x="665.94" y="351.0" width="2.5" height="9.0" fill="#08907a"/>
<rect x="669.44" y="351.0" width="1.0" height="13.0" fill="#ef0a22"/><rect x="668.69" y="351.0" width="2.5" height="4.0" fill="#ef0a22"/>
<rect x="672.19" y="338.0" width="1.0" height="18.0" fill="#08907a"/><rect x="671.44" y="344.0" width="2.5" height="11.0" fill="#08907a"/>
<rect x="674.94" y="297.0" width="1.0" height="48.0" fill="#08907a"/><rect x="674.19" y="303.0" width="2.5" height="41.0" fill="#08907a"/>
<rect x="677.69" y="286.0" width="1.0" height="28.0" fill="#ef0a22"/><rect x="676.94" y="303.0" width="2.5" height="7.0" fill="#ef0a22"/>
<rect x="680.45" y="302.0" width="1.0" height="12.0" fill="#08907a"/><rect x="679.70" y="308.0" width="2.5" height="2.0" fill="#08907a"/>
<rect x="683.20" y="296.0" width="1.0" height="14.0" fill="#08907a"/><rect x="682.45" y="305.0" width="2.5" height="3.0" fill="#08907a"/>
<rect x="685.95" y="287.0" width="1.0" height="21.0" fill="#08907a"/><rect x="685.20" y="296.0" width="2.5" height="9.0" fill="#08907a"/>
<rect x="688.70" y="293.0" width="1.0" height="14.0" fill="#08907a"/><rect x="687.95" y="296.0" width="2.5" height="1.0" fill="#08907a"/>
<rect x="691.45" y="296.0" width="1.0" height="45.0" fill="#ef0a22"/><rect x="690.70" y="296.0" width="2.5" height="34.0" fill="#ef0a22"/>
<rect x="694.20" y="323.0" width="1.0" height="27.0" fill="#ef0a22"/><rect x="693.45" y="330.0" width="2.5" height="2.0" fill="#ef0a22"/>
<rect x="696.95" y="330.0" width="1.0" height="17.0" fill="#ef0a22"/><rect x="696.20" y="332.0" width="2.5" height="2.0" fill="#ef0a22"/>
<rect x="699.71" y="327.0" width="1.0" height="9.0" fill="#08907a"/><rect x="698.96" y="328.0" width="2.5" height="6.0" fill="#08907a"/>
<rect x="702.46" y="323.0" width="1.0" height="8.0" fill="#08907a"/><rect x="701.71" y="324.0" width="2.5" height="4.0" fill="#08907a"/>
<rect x="705.21" y="317.0" width="1.0" height="20.0" fill="#ef0a22"/><rect x="704.46" y="324.0" width="2.5" height="12.0" fill="#ef0a22"/>
<rect x="707.96" y="330.0" width="1.0" height="11.0" fill="#08907a"/><rect x="707.21" y="335.0" width="2.5" height="1.0" fill="#08907a"/>
<rect x="710.71" y="332.0" width="1.0" height="13.0" fill="#ef0a22"/><rect x="709.96" y="335.0" width="2.5" height="4.0" fill="#ef0a22"/>
<rect x="713.46" y="331.0" width="1.0" height="15.0" fill="#ef0a22"/><rect x="712.71" y="339.0" width="2.5" height="6.0" fill="#ef0a22"/>
<rect x="716.22" y="342.0" width="1.0" height="14.0" fill="#ef0a22"/><rect x="715.47" y="345.0" width="2.5" height="6.0" fill="#ef0a22"/>
<rect x="718.97" y="350.0" width="1.0" height="21.0" fill="#ef0a22"/><rect x="718.22" y="351.0" width="2.5" height="18.0" fill="#ef0a22"/>
<rect x="721.72" y="351.0" width="1.0" height="21.0" fill="#08907a"/><rect x="720.97" y="352.0" width="2.5" height="17.0" fill="#08907a"/>
<rect x="724.47" y="338.0" width="1.0" height="14.0" fill="#08907a"/><rect x="723.72" y="339.0" width="2.5" height="13.0" fill="#08907a"/>
<rect x="727.22" y="337.0" width="1.0" height="18.0" fill="#ef0a22"/><rect x="726.47" y="339.0" width="2.5" height="13.0" fill="#ef0a22"/>
<rect x="729.97" y="345.0" width="1.0" height="10.0" fill="#08907a"/><rect x="729.22" y="348.0" width="2.5" height="4.0" fill="#08907a"/>
<rect x="732.73" y="317.0" width="1.0" height="32.0" fill="#08907a"/><rect x="731.98" y="318.0" width="2.5" height="30.0" fill="#08907a"/>
<rect x="735.48" y="312.0" width="1.0" height="15.0" fill="#ef0a22"/><rect x="734.73" y="318.0" width="2.5" height="2.0" fill="#ef0a22"/>
<rect x="738.23" y="315.0" width="1.0" height="12.0" fill="#ef0a22"/><rect x="737.48" y="320.0" width="2.5" height="6.0" fill="#ef0a22"/>
<rect x="740.98" y="320.0" width="1.0" height="12.0" fill="#ef0a22"/><rect x="740.23" y="326.0" width="2.5" height="5.0" fill="#ef0a22"/>
<rect x="743.73" y="317.0" width="1.0" height="19.0" fill="#ef0a22"/><rect x="742.98" y="331.0" width="2.5" height="4.0" fill="#ef0a22"/>
<rect x="746.48" y="319.0" width="1.0" height="18.0" fill="#08907a"/><rect x="745.73" y="322.0" width="2.5" height="13.0" fill="#08907a"/>
<rect x="749.24" y="316.0" width="1.0" height="8.0" fill="#08907a"/><rect x="748.49" y="322.0" width="2.5" height="1.0" fill="#08907a"/>
<rect x="751.99" y="314.0" width="1.0" height="31.0" fill="#ef0a22"/><rect x="751.24" y="322.0" width="2.5" height="17.0" fill="#ef0a22"/>
<rect x="754.74" y="334.0" width="1.0" height="11.0" fill="#ef0a22"/><rect x="753.99" y="339.0" width="2.5" height="1.0" fill="#ef0a22"/>
<rect x="757.49" y="332.0" width="1.0" height="8.0" fill="#08907a"/><rect x="756.74" y="337.0" width="2.5" height="3.0" fill="#08907a"/>
<rect x="760.24" y="334.0" width="1.0" height="6.0" fill="#ef0a22"/><rect x="759.49" y="337.0" width="2.5" height="2.0" fill="#ef0a22"/>
<rect x="762.99" y="338.0" width="1.0" height="15.0" fill="#ef0a22"/><rect x="762.24" y="339.0" width="2.5" height="13.0" fill="#ef0a22"/>
<path d="M39.6 271.1 Q494 694 848.3 270.6" fill="none" stroke="#000" stroke-width="2.5" stroke-linecap="round"/>
<clipPath id="bandclip"><rect x="38" y="269" width="893" height="13"/></clipPath>
<g stroke="#fff" stroke-width="3" fill="none" stroke-linecap="square" clip-path="url(#bandclip)">
<line x1="475" y1="268" x2="475" y2="483"/>
<line x1="460" y1="268.5" x2="489" y2="268.5"/>
<line x1="460.5" y1="482.5" x2="488" y2="482.5"/>
<polyline points="469,273.8 475,268.8 481,273.8"/>
<line x1="915.5" y1="55" x2="915.5" y2="270.5"/>
<line x1="900.5" y1="55.5" x2="929" y2="55.5"/>
<line x1="900.5" y1="270.5" x2="929" y2="270.5"/>
<polyline points="909.5,60.3 915.5,55.8 921.5,60.3"/>
</g>
<g stroke="#000" stroke-width="1" fill="none">
<line x1="475" y1="268" x2="475" y2="483" stroke-width="1.3"/>
<line x1="460" y1="268.5" x2="489" y2="268.5"/>
<line x1="460.5" y1="482.5" x2="488" y2="482.5"/>
<polyline points="469,273.8 475,268.8 481,273.8"/>
<line x1="915.5" y1="55" x2="915.5" y2="270.5"/>
<line x1="900.5" y1="55.5" x2="929" y2="55.5"/>
<line x1="900.5" y1="270.5" x2="929" y2="270.5"/>
<polyline points="909.5,60.3 915.5,55.8 921.5,60.3"/>
</g>
<g transform="translate(794 490) scale(0.07452)" fill="#000">
<path d="M325 120 L340 95 L420 95 L430 150 L585 58 L608 55 L618 80 L600 102 L560 120 L440 220 L420 260 L420 360 L500 395 L530 440 L520 520 L545 570 L600 595 L600 615 L500 615 L490 585 L480 520 L470 455 L420 440 L330 440 L200 520 L70 615 L40 605 L60 580 L180 470 L260 410 L300 370 L300 290 L330 185 L335 165 Z"/>
<path d="M285 190 L340 180 L310 285 L290 305 L215 405 L188 440 L172 415 L240 265 Z"/>
</g>
<defs><linearGradient id="sw" x1="0" x2="1" y1="0" y2="0"><stop offset="0" stop-color="#aaa"/><stop offset="0.5" stop-color="#999"/><stop offset="0.8" stop-color="#222"/><stop offset="1" stop-color="#ccc"/></linearGradient></defs>
<path d="M840.7 495.6 L862 495.5 L869 496.2 L862 496.9 L840.7 496.8 Z" fill="url(#sw)"/>
</svg>
<div class="title">XRP / U.S. Dollar · 1D · CRYPTO</div>
<div class="usd"><span>USD</span></div>
<div class="yl" style="top:62.65px">6.0000</div>
<div class="yl" style="top:108.85px">5.5000</div>
<div class="yl" style="top:155.05px">5.0000</div>
<div class="yl" style="top:201.25px">4.5000</div>
<div class="yl" style="top:247.45px">4.0000</div>
<div class="yl" style="top:293.65px">3.5000</div>
<div class="yl" style="top:339.85px">3.0000</div>
<div class="yl" style="top:386.05px">2.5000</div>
<div class="yl" style="top:432.25px">2.0000</div>
<div class="yl" style="top:478.45px">1.5000</div>
<div class="yl" style="top:524.65px">1.0000</div>
<div class="yl" style="top:570.85px">0.5000</div>

<div class="xl" style="left:18.08px">Dec</div>
<div class="xl b" style="left:103.38px">2025</div>
<div class="xl" style="left:188.68px">Feb</div>
<div class="xl" style="left:265.72px">Mar</div>
<div class="xl" style="left:351.02px">Apr</div>
<div class="xl" style="left:433.57px">May</div>
<div class="xl" style="left:518.87px">Jun</div>
<div class="xl" style="left:601.42px">Jul</div>
<div class="xl" style="left:686.72px">Aug</div>
<div class="xl" style="left:772.02px">Sep</div>
<div class="xl" style="left:854.56px">Oct</div>

<div class="lab" style="left:438px;top:228px;width:72px;height:28.5px;line-height:28.5px;"><span class="lt">150.60%</span></div>
<div class="lab" style="left:883.75px;top:15px;width:62.5px;height:28.5px;line-height:28.5px;"><span class="lt">60.28%</span></div>
</body></html>
